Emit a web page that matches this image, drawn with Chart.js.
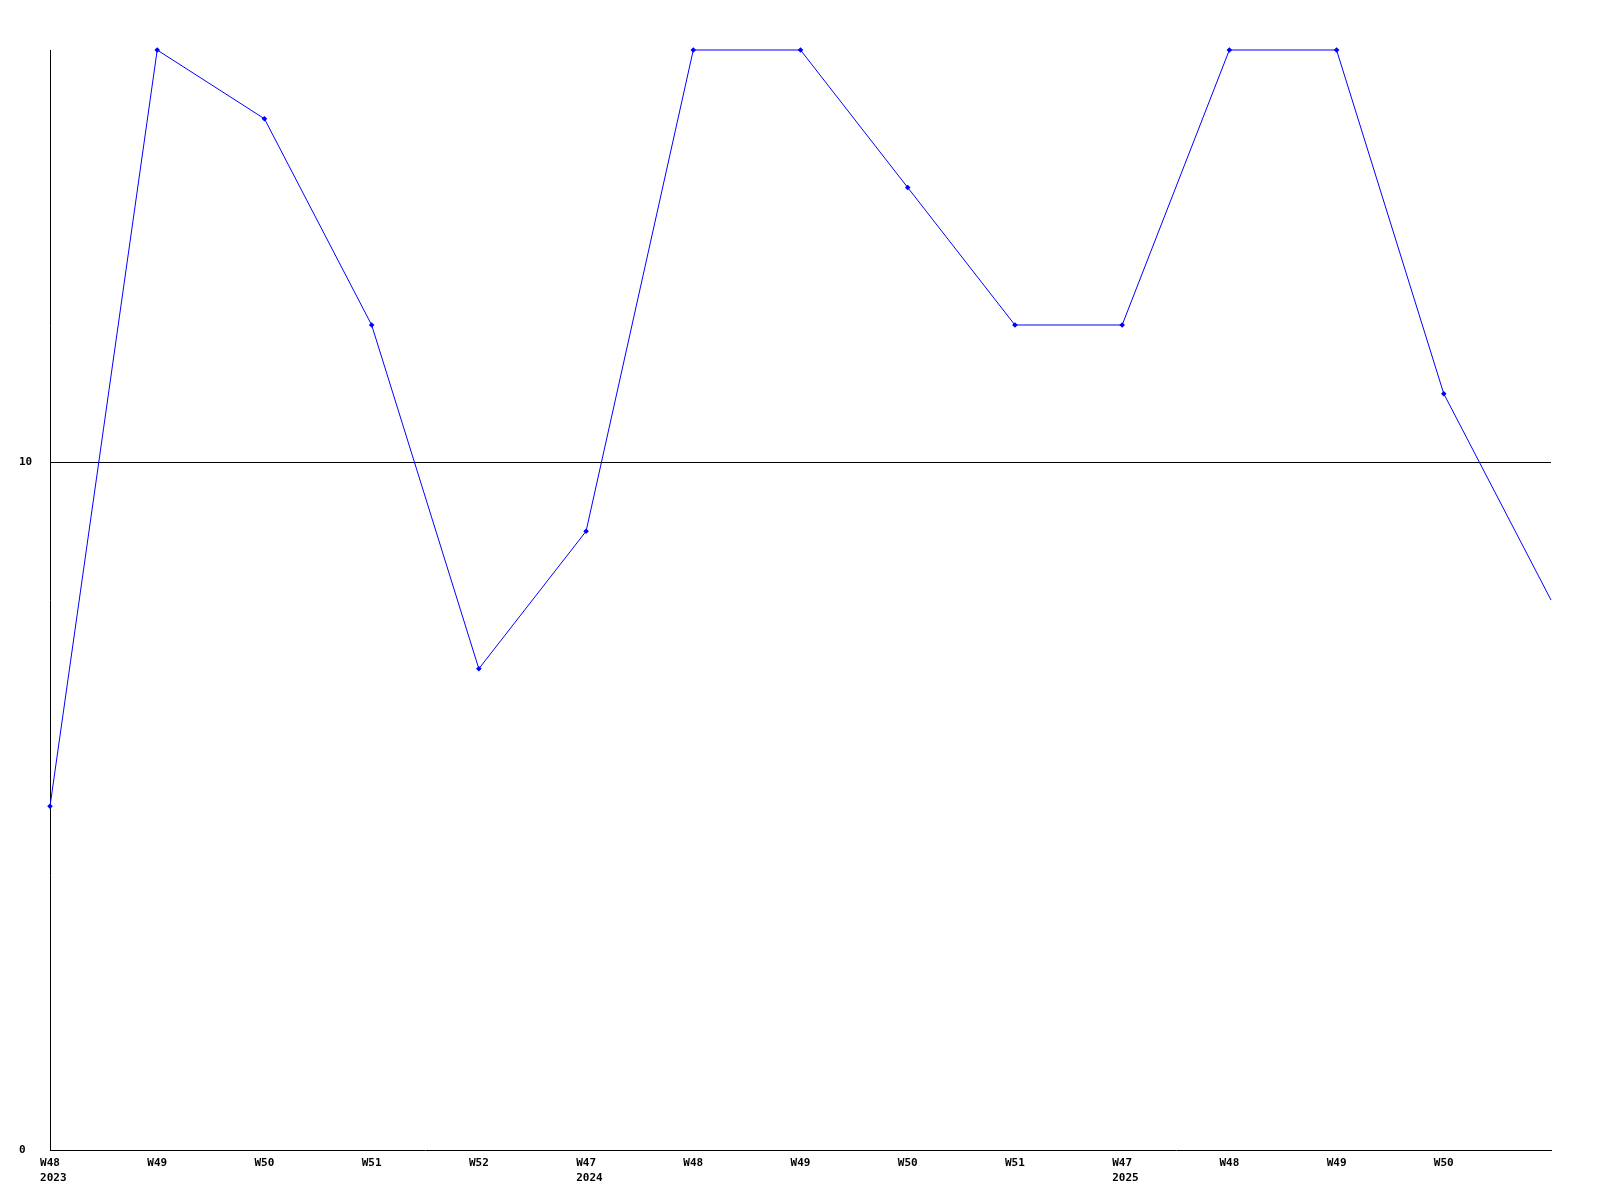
<!DOCTYPE html>
<html>
<head>
<meta charset="utf-8">
<script src="https://cdn.jsdelivr.net/npm/chart.js@4/dist/chart.umd.min.js"></script>
<style>
html,body{margin:0;padding:0;background:#fff;}
canvas{display:block;}
</style>
</head>
<body>
<canvas id="c" width="1600" height="1200"></canvas>
<script>
const categories = [["W48"," 2023"],"W49","W50","W51","W52",["W47"," 2024"],"W48","W49","W50","W51",["W47"," 2025"],"W48","W49","W50",""];
const values = [5,16,15,12,7,9,16,16,14,12,12,16,16,11,8];
const yTicks = [0, 10];
const yMin = 0, yMax = 16;

const pointRadii = values.map((v, i) => i === values.length - 1 ? 0 : 2.8);

new Chart(document.getElementById('c'), {
  type: 'line',
  data: {
    labels: categories,
    datasets: [{
      data: values,
      borderColor: '#0000ff',
      backgroundColor: '#0000ff',
      borderWidth: 1,
      pointStyle: 'rectRot',
      pointRadius: pointRadii,
      pointBorderWidth: 0,
      tension: 0,
      clip: false
    }]
  },
  options: {
    responsive: false,
    animation: false,
    devicePixelRatio: 1,
    layout: { padding: { left: 19, top: 50, right: 49, bottom: 0 } },
    plugins: { legend: { display: false }, tooltip: { enabled: false } },
    scales: {
      x: {
        type: 'category',
        offset: false,
        grid: { display: false, drawTicks: false },
        border: { display: true, color: '#000', width: 1 },
        ticks: {
          autoSkip: false,
          maxRotation: 0,
          padding: 6,
          color: '#000',
          font: { family: 'DejaVu Sans Mono', size: 11, weight: 'bold', lineHeight: 1.35 }
        },
        afterFit: s => { s.height = 50; }
      },
      y: {
        min: yMin,
        max: yMax,
        afterBuildTicks: s => { s.ticks = yTicks.map(v => ({ value: v })); },
        grid: {
          drawTicks: false,
          color: ctx => (ctx.tick && ctx.tick.value === 10) ? '#000' : 'rgba(0,0,0,0)',
          lineWidth: 1
        },
        border: { display: true, color: '#000', width: 1 },
        ticks: {
          crossAlign: 'far',
          padding: 0,
          color: '#000',
          font: { family: 'DejaVu Sans Mono', size: 11, weight: 'bold' }
        },
        afterFit: s => { s.width = 31; }
      }
    }
  }
});
</script>
</body>
</html>
